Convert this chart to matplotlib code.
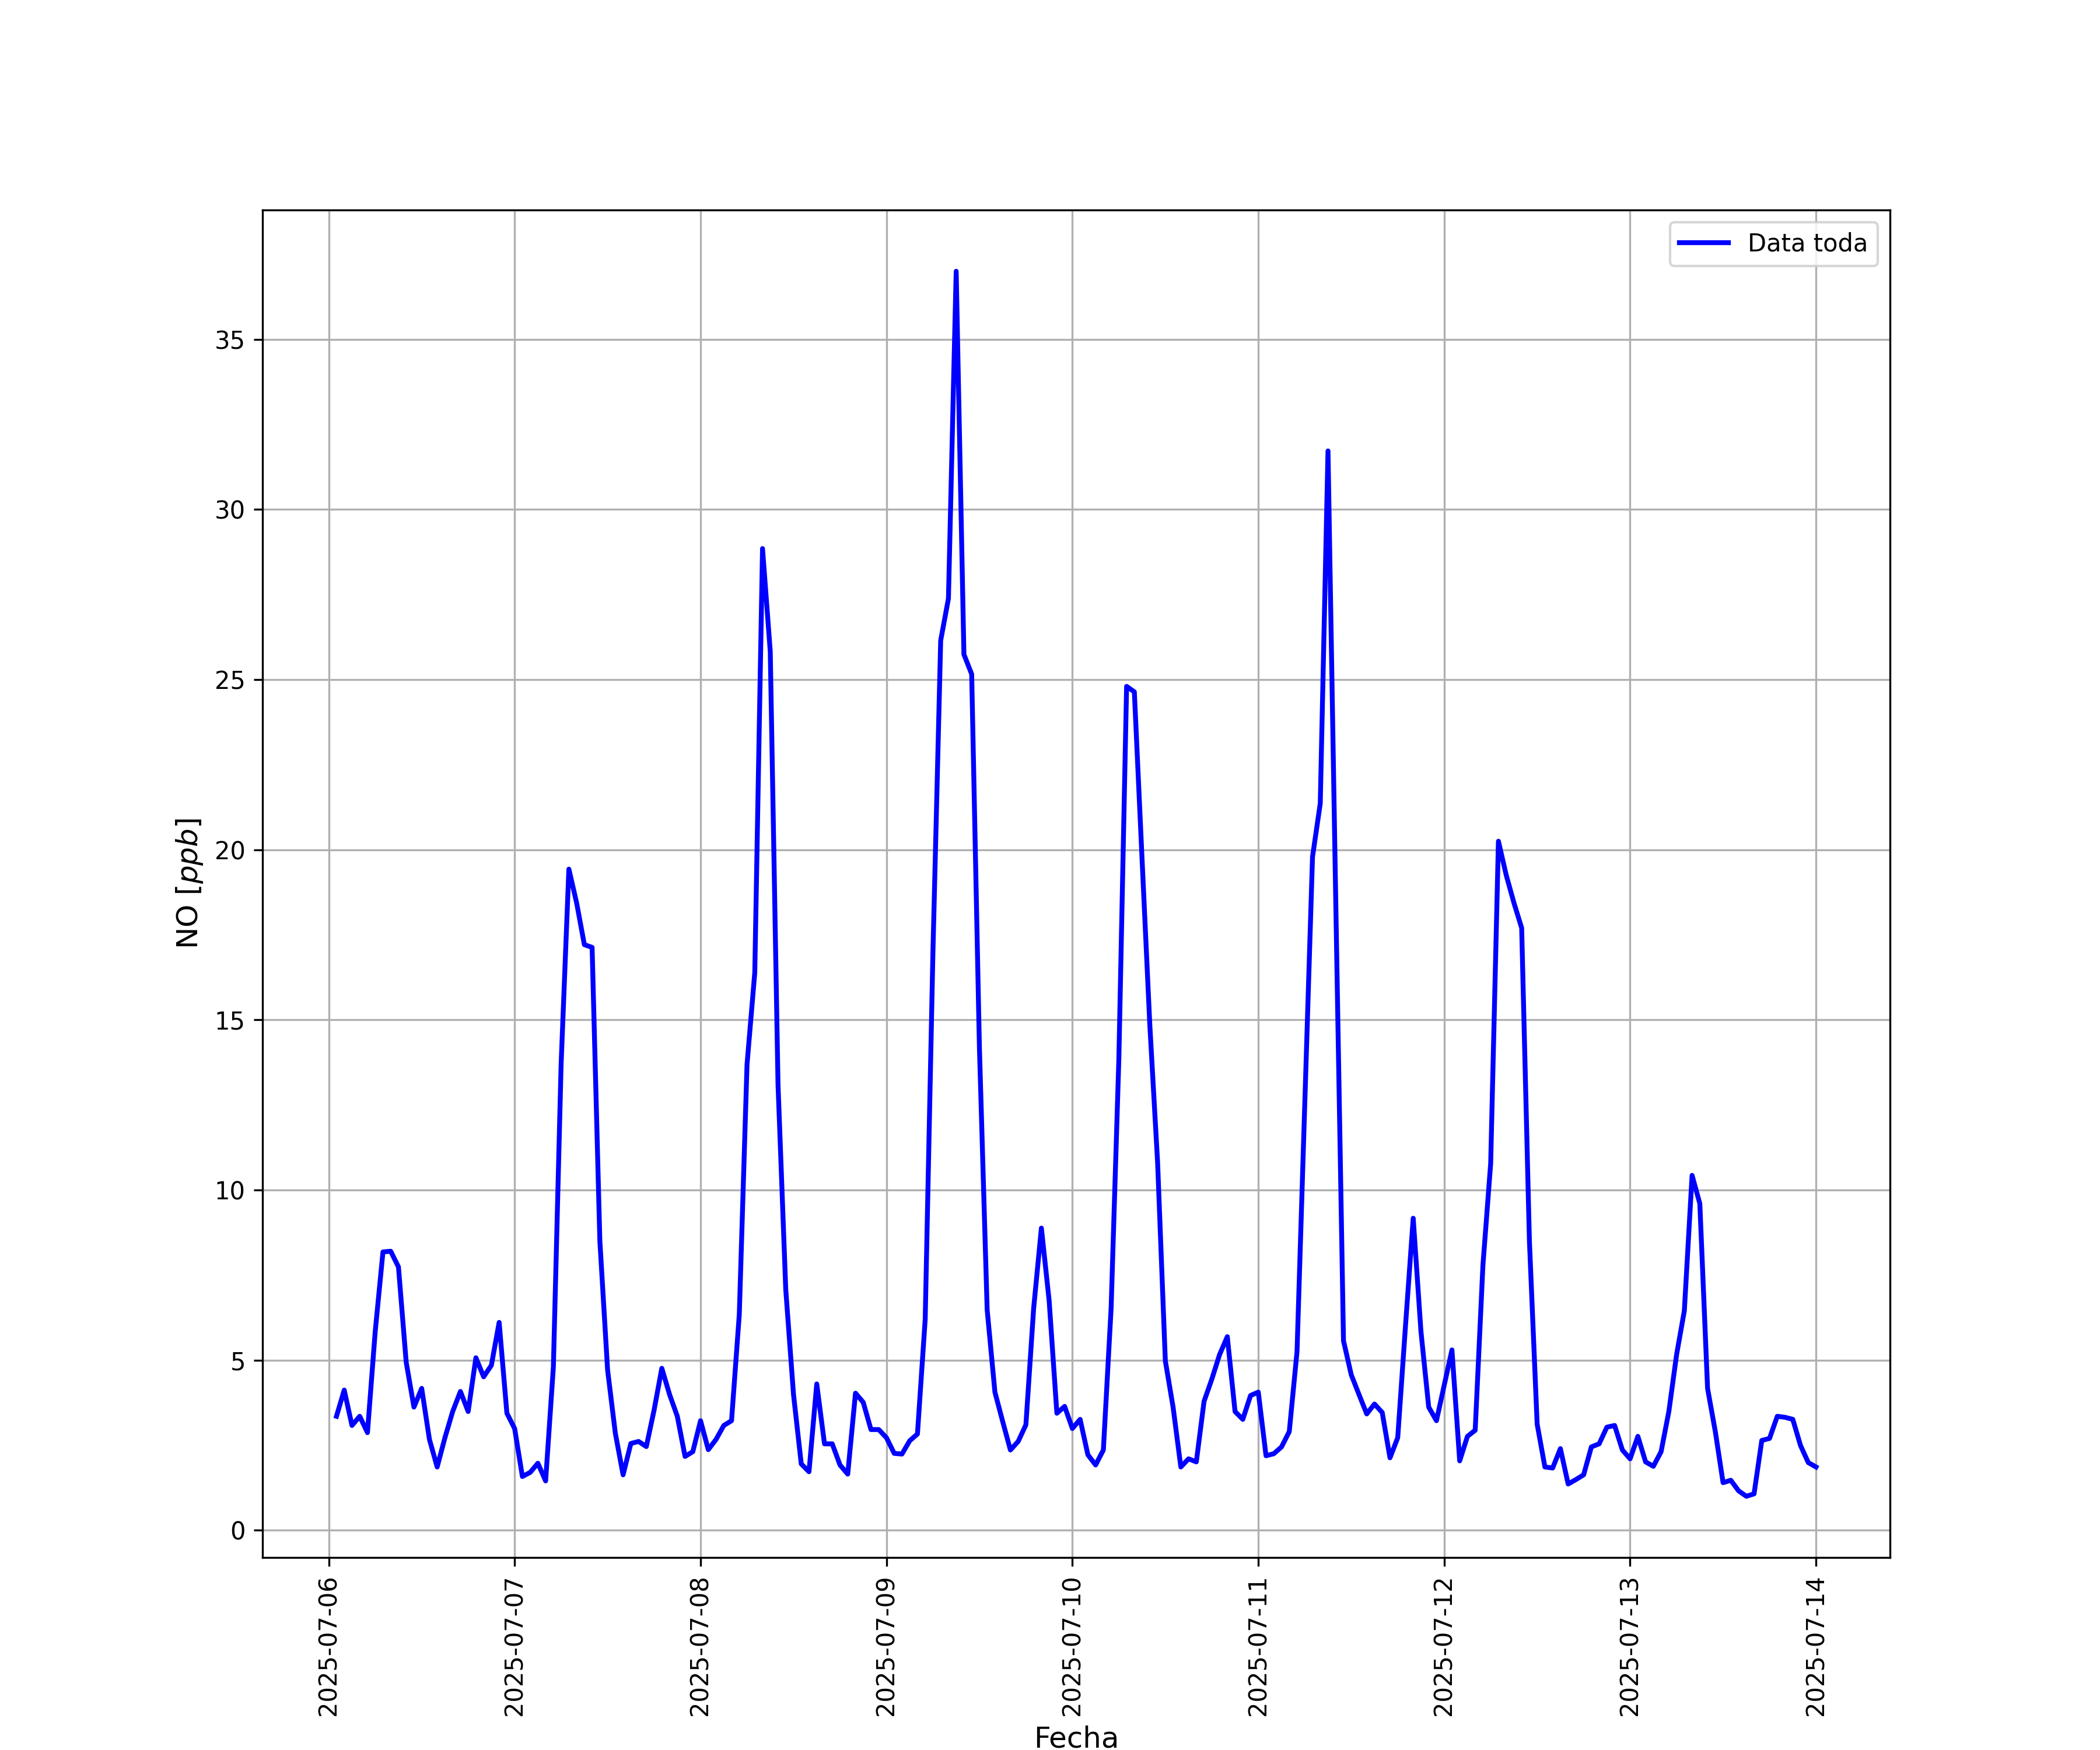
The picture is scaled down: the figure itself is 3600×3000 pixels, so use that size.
import pandas as pd
import matplotlib
matplotlib.use('Agg')
import matplotlib.pyplot as plt

# Concentraciones horarias de NO (ppb), de 01:00 a 24:00 de cada día
no_0706 = [3.35, 4.12, 3.08, 3.35, 2.87, 5.84, 8.18, 8.20, 7.74, 4.94, 3.62, 4.17,
           2.67, 1.86, 2.72, 3.49, 4.08, 3.49, 5.07, 4.51, 4.85, 6.11, 3.44, 2.99]
no_0707 = [1.58, 1.70, 1.97, 1.45, 4.80, 13.7, 19.43, 18.44, 17.21, 17.13, 8.51, 4.71,
           2.85, 1.63, 2.55, 2.61, 2.46, 3.53, 4.76, 3.99, 3.35, 2.17, 2.31, 3.22]
no_0708 = [2.37, 2.67, 3.08, 3.22, 6.34, 13.69, 16.39, 28.85, 25.82, 13.1, 7.07, 3.99,
           1.95, 1.72, 4.30, 2.54, 2.54, 1.92, 1.65, 4.03, 3.76, 2.96, 2.96, 2.72]
no_0709 = [2.26, 2.24, 2.63, 2.83, 6.20, 17.0, 26.15, 27.38, 37.0, 25.74, 25.16, 14.18,
           6.48, 4.06, 3.20, 2.36, 2.61, 3.10, 6.52, 8.88, 6.75, 3.44, 3.64, 2.99]
no_0710 = [3.26, 2.22, 1.92, 2.36, 6.52, 13.85, 24.8, 24.64, 19.7, 14.84, 10.82, 4.98,
           3.62, 1.86, 2.10, 2.01, 3.79, 4.44, 5.16, 5.69, 3.49, 3.26, 3.96, 4.06]
no_0711 = [2.19, 2.25, 2.45, 2.90, 5.25, 12.5, 19.79, 21.36, 31.72, 18.5, 5.57, 4.57,
           3.99, 3.42, 3.71, 3.46, 2.13, 2.72, 6.0, 9.17, 5.84, 3.62, 3.22, 4.26]
no_0712 = [5.30, 2.04, 2.76, 2.94, 7.79, 10.78, 20.25, 19.26, 18.44, 17.7, 8.51, 3.12,
           1.86, 1.83, 2.40, 1.36, 1.49, 1.63, 2.45, 2.54, 3.03, 3.08, 2.36, 2.10]
no_0713 = [2.76, 2.01, 1.88, 2.31, 3.49, 5.16, 6.45, 10.43, 9.60, 4.17, 2.90, 1.40,
           1.47, 1.16, 1.00, 1.07, 2.64, 2.70, 3.35, 3.32, 3.26, 2.49, 1.99, 1.86]

valores = (no_0706 + no_0707 + no_0708 + no_0709 +
           no_0710 + no_0711 + no_0712 + no_0713)
fechas = pd.date_range('2025-07-06 01:00', periods=len(valores), freq='h')

df = pd.DataFrame({'Fecha': fechas, 'NO': valores})

plt.figure(figsize=(12, 10))
plt.plot(df['Fecha'], df['NO'], color='blue', linewidth=2, label='Data toda')
plt.xlabel('Fecha', fontsize=12)
plt.ylabel('NO [$ppb$]', fontsize=12)
plt.xticks(rotation=90)
plt.grid(True)
plt.legend(loc='upper right')
plt.savefig('out.png', dpi=300)
